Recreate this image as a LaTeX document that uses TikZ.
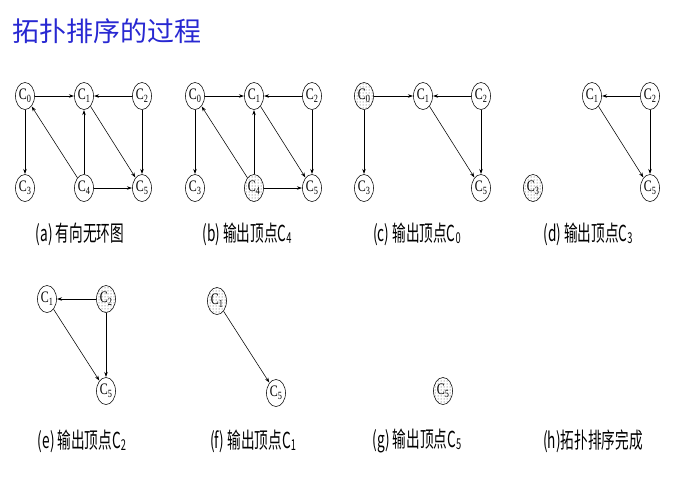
\documentclass[tikz,border=0pt]{standalone}
\usepackage{fontspec}
\setmainfont{Liberation Serif}
\newfontfamily\cjk{Noto Sans CJK SC}
\usetikzlibrary{arrows.meta,patterns,shapes.geometric}
\definecolor{titleblue}{RGB}{40,40,210}
\newcommand\cv[1]{\scalebox{0.75}[1]{C\raisebox{-3pt}{\fontsize{11}{11}\selectfont #1}}}
\newcommand\cvl[1]{C\raisebox{-2pt}{\fontsize{15}{15}\selectfont #1}}
\newcommand\lbl[1]{\scalebox{0.62}[1]{\cjk\fontsize{22}{22}\selectfont #1}}
\tikzset{
  vtx/.style={draw, ellipse, minimum width=19pt, minimum height=27pt, inner sep=0pt,
    line width=0.55pt, font=\fontsize{16}{16}\selectfont},
  hit/.style={vtx, pattern=dots, pattern color=black!70},
  arc/.style={-{Stealth[length=5pt,width=3.5pt]}, line width=0.55pt, shorten >=0.3pt},
  caplbl/.style={inner sep=0pt, anchor=center},
}
\begin{document}
\begin{tikzpicture}[x=1pt,y=-1pt]
\useasboundingbox (0,0) rectangle (677,498);
\fill[white] (0,0) rectangle (677,498);
% title
\node[anchor=west, inner sep=0pt, text=titleblue, font=\cjk\fontsize{27}{27}\selectfont] (title) at (12,31) {拓扑排序的过程};

% (a)
\node[vtx] (a0) at (25,96) {\cv0};
\node[vtx] (a1) at (84,96) {\cv1};
\node[vtx] (a2) at (142,96) {\cv2};
\node[vtx] (a3) at (25,188) {\cv3};
\node[vtx] (a4) at (84,188) {\cv4};
\node[vtx] (a5) at (142,188) {\cv5};
\draw[arc] (a0) -- (a1);
\draw[arc] (a2) -- (a1);
\draw[arc] (a0) -- (a3);
\draw[arc] (a4) -- (a0);
\draw[arc] (a4) -- (a1);
\draw[arc] (a1) -- (a5);
\draw[arc] (a2) -- (a5);
\draw[arc] (a4) -- (a5);
\node[caplbl] (la) at (80,234) {\lbl{(a) 有向无环图}};

% (b)
\node[vtx] (b0) at (195,96) {\cv0};
\node[vtx] (b1) at (254,96) {\cv1};
\node[vtx] (b2) at (312,96) {\cv2};
\node[vtx] (b3) at (195,188) {\cv3};
\node[hit] (b4) at (254,188) {\cv4};
\node[vtx] (b5) at (312,188) {\cv5};
\draw[arc] (b0) -- (b1);
\draw[arc] (b2) -- (b1);
\draw[arc] (b0) -- (b3);
\draw[arc] (b4) -- (b0);
\draw[arc] (b4) -- (b1);
\draw[arc] (b1) -- (b5);
\draw[arc] (b2) -- (b5);
\draw[arc] (b4) -- (b5);
\node[caplbl] (lb) at (247,234) {\lbl{(b) 输出顶点\cvl4}};

% (c)
\node[hit] (c0) at (364,96) {\cv0};
\node[vtx] (c1) at (423,96) {\cv1};
\node[vtx] (c2) at (481,96) {\cv2};
\node[vtx] (c3) at (364,188) {\cv3};
\node[vtx] (c5) at (481,188) {\cv5};
\draw[arc] (c0) -- (c1);
\draw[arc] (c2) -- (c1);
\draw[arc] (c0) -- (c3);
\draw[arc] (c1) -- (c5);
\draw[arc] (c2) -- (c5);
\node[caplbl] (lc) at (417,234) {\lbl{(c) 输出顶点\cvl0}};

% (d)
\node[vtx] (d1) at (592,96) {\cv1};
\node[vtx] (d2) at (650,96) {\cv2};
\node[hit] (d3) at (533,188) {\cv3};
\node[vtx] (d5) at (650,188) {\cv5};
\draw[arc] (d2) -- (d1);
\draw[arc] (d1) -- (d5);
\draw[arc] (d2) -- (d5);
\node[caplbl] (ld) at (588,234) {\lbl{(d) 输出顶点\cvl3}};

% (e)
\node[vtx] (e1) at (47,299) {\cv1};
\node[hit] (e2) at (106,299) {\cv2};
\node[vtx] (e5) at (106,391) {\cv5};
\draw[arc] (e2) -- (e1);
\draw[arc] (e1) -- (e5);
\draw[arc] (e2) -- (e5);
\node[caplbl] (le) at (82,441) {\lbl{(e) 输出顶点\cvl2}};

% (f)
\node[hit] (f1) at (217,301) {\cv1};
\node[vtx] (f5) at (276,393) {\cv5};
\draw[arc] (f1) -- (f5);
\node[caplbl] (lf) at (253,441) {\lbl{(f) 输出顶点\cvl1}};

% (g)
\node[hit] (g5) at (443,391) {\cv5};
\node[caplbl] (lg) at (417,441) {\lbl{(g) 输出顶点\cvl5}};

% (h)
\node[caplbl] (lh) at (593,441) {\lbl{(h)拓扑排序完成}};
\end{tikzpicture}
\end{document}
